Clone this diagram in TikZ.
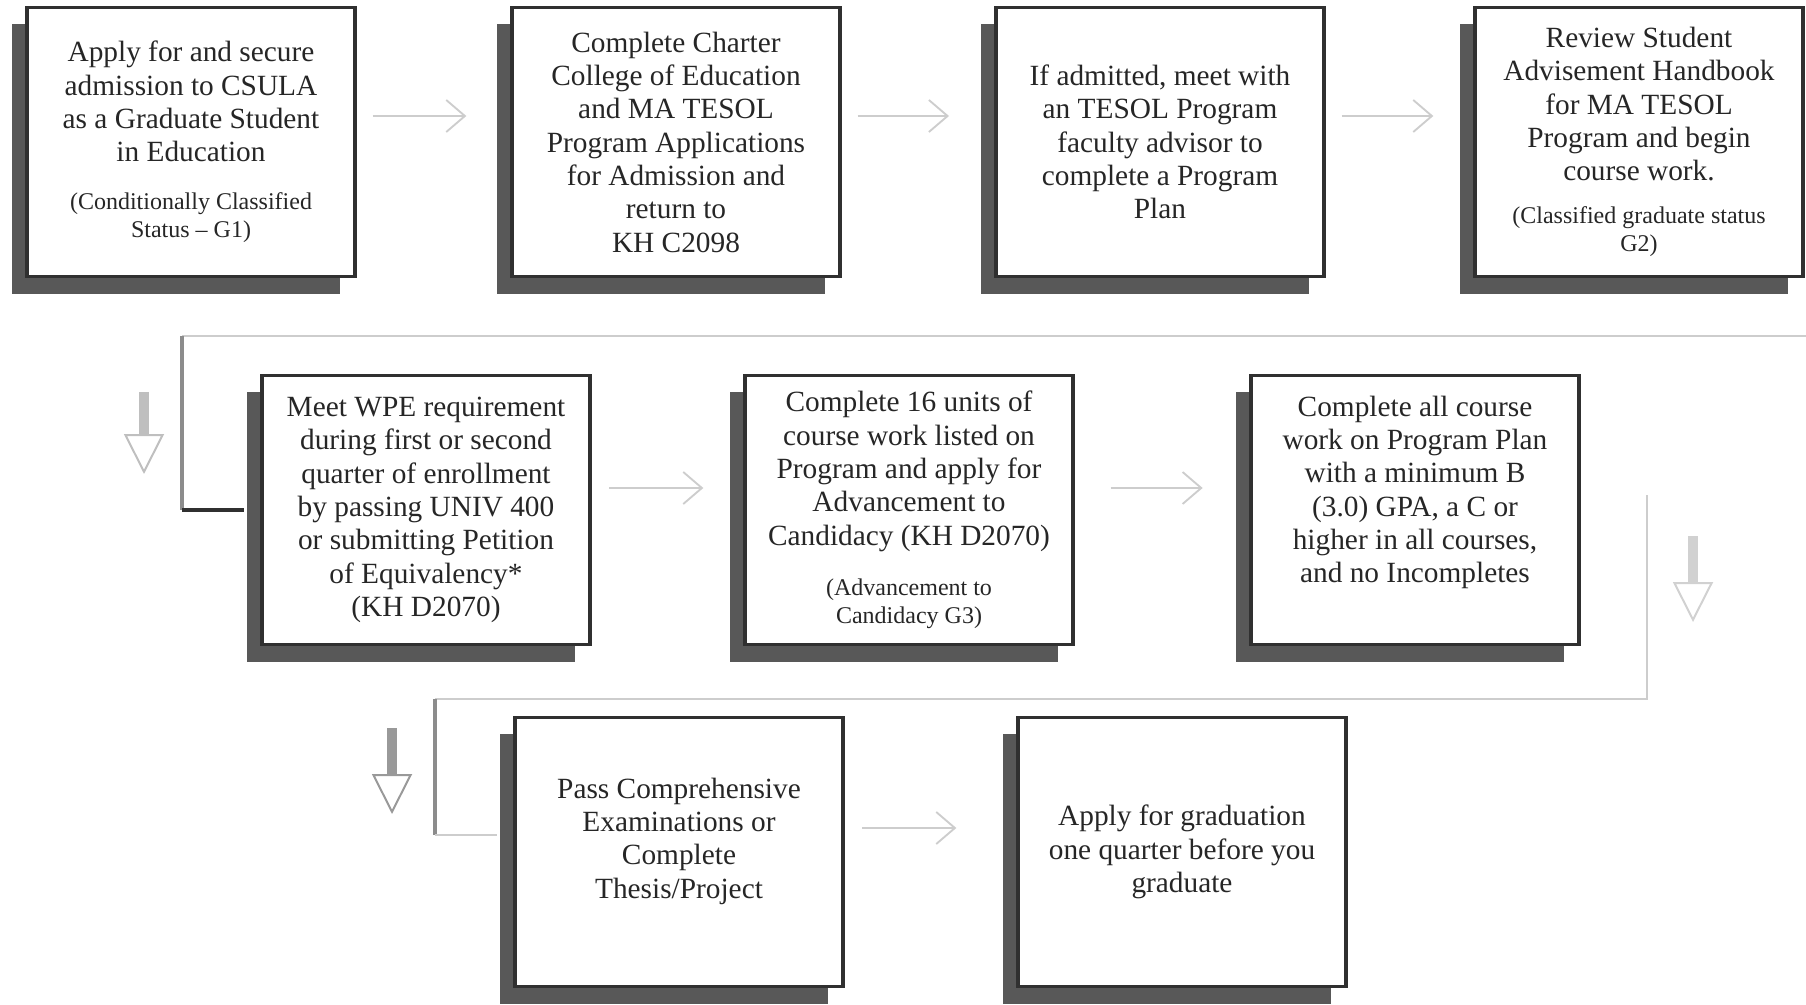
\documentclass[tikz,border=0pt]{standalone}
\usepackage{fontspec}
\setmainfont{Liberation Serif}
\usetikzlibrary{arrows.meta,shadows,calc}

\definecolor{boxline}{RGB}{48,48,48}
\definecolor{boxshade}{RGB}{88,88,88}
\definecolor{faintline}{RGB}{205,205,205}
\definecolor{midline}{RGB}{140,140,140}
\newcommand{\notefont}{\fontsize{18}{20.5}\selectfont}

\tikzset{
  stepbox/.style={draw=boxline, line width=2.5pt, fill=white, text=black!85,
    minimum width=246pt, minimum height=202pt, inner sep=4pt, align=center,
    font=\fontsize{22}{25}\selectfont,
    drop shadow={shadow xshift=-11pt, shadow yshift=-12.75pt, fill=boxshade, opacity=1}},
  flowarrow/.style={draw=faintline, line width=1.4pt, -{Straight Barb[length=14pt,width=24pt]}},
  wrapline/.style={draw=faintline, line width=1.6pt},
  turnline/.style={draw=midline, line width=2.5pt},
  stubline/.style={draw=boxline, line width=3pt},
  downarrow/.style={draw=#1, line width=8pt, -{Triangle[open,length=30pt,width=30pt,line width=1.5pt]}},
  downarrow/.default={black!30}
}

\begin{document}
\begin{tikzpicture}[x=0.75pt,y=0.75pt,yscale=-1,xscale=1]
\useasboundingbox (0,0) rectangle (1806,1005);

% Row 1
\node[stepbox] (apply) at (191,142) {Apply for and secure\\admission to CSULA\\as a Graduate Student\\in Education\\[11pt]\notefont(Conditionally Classified\\[-4pt]\notefont Status -- G1)};
\node[stepbox] (charter) at (676,142) {Complete Charter\\College of Education\\and MA TESOL\\Program Applications\\for Admission and\\return to\\KH C2098};
\node[stepbox] (admitted) at (1160,142) {If admitted, meet with\\an TESOL Program\\faculty advisor to\\complete a Program\\Plan};
\node[stepbox] (review) at (1639,142) {Review Student\\Advisement Handbook\\for MA TESOL\\Program and begin\\course work.\\[7pt]\notefont(Classified graduate status\\[-4pt]\notefont G2)};

% Row 2
\node[stepbox] (wpe) at (426,510) {Meet WPE requirement\\during first or second\\quarter of enrollment\\by passing UNIV 400\\or submitting Petition\\of Equivalency*\\(KH D2070)};
\node[stepbox] (units) at (909,510) {Complete 16 units of\\course work listed on\\Program and apply for\\Advancement to\\Candidacy (KH D2070)\\[13pt]\notefont(Advancement to\\[-4pt]\notefont Candidacy G3)};
\node[stepbox] (allwork) at (1415,510) {Complete all course\\work on Program Plan\\with a minimum B\\(3.0) GPA, a C or\\higher in all courses,\\and no Incompletes\\[6pt]\mbox{}};

% Row 3
\node[stepbox] (exams) at (679,852) {Pass Comprehensive\\Examinations or\\Complete\\Thesis/Project\\[-4pt]\mbox{}};
\node[stepbox] (graduate) at (1182,852) {Apply for graduation\\one quarter before you\\graduate};

%Straight Lines: arrows between steps
\draw[flowarrow, shorten <=12pt, shorten >=33pt] ($(apply.east)+(0,-26)$) -- ($(charter.west)+(0,-26)$);
\draw[flowarrow, shorten <=12pt, shorten >=34pt] ($(charter.east)+(0,-26)$) -- ($(admitted.west)+(0,-26)$);
\draw[flowarrow, shorten <=12pt, shorten >=30pt] ($(admitted.east)+(0,-26)$) -- ($(review.west)+(0,-26)$);
\draw[flowarrow, shorten <=13pt, shorten >=30pt] ($(wpe.east)+(0,-22)$) -- ($(units.west)+(0,-22)$);
\draw[flowarrow, shorten <=27pt, shorten >=35pt] ($(units.east)+(0,-22)$) -- ($(allwork.west)+(0,-22)$);
\draw[flowarrow, shorten <=13pt, shorten >=45pt] ($(exams.east)+(0,-24)$) -- ($(graduate.west)+(0,-24)$);

%Straight Lines: row 1 to row 2
\coordinate (wrapR) at (1806,336);
\coordinate (turnA) at (182,336);
\draw[wrapline] (wrapR) -- (turnA);
\draw[turnline] (turnA) -- (turnA |- wpe.west);
\draw[stubline, shorten >=12pt] (turnA |- wpe.west) -- (wpe.west);
\coordinate (dropA) at (144,392);
\draw[downarrow=black!25] (dropA) -- ++(0,82);

%Straight Lines: row 2 to row 3
\coordinate (turnB) at (1647,495);
\coordinate (turnC) at (435,699);
\coordinate (entryC) at (435,835);
\draw[wrapline] (turnB) -- (turnB |- turnC) -- (turnC);
\draw[turnline] (turnC) -- (entryC);
\draw[wrapline, shorten >=12pt] (entryC) -- (exams.west |- entryC);
\coordinate (dropB) at (1693,536);
\draw[downarrow=black!18] (dropB) -- ++(0,86);
\coordinate (dropC) at (392,728);
\draw[downarrow=black!40] (dropC) -- ++(0,86);

\end{tikzpicture}
\end{document}
